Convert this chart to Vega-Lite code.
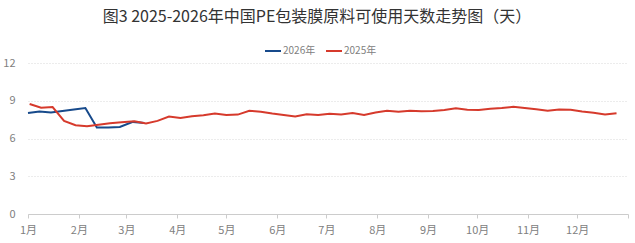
{
  "$schema": "https://vega.github.io/schema/vega-lite/v6.json",
  "width": 600,
  "height": 151,
  "autosize": "none",
  "padding": {"left": 28, "top": 63, "right": 7, "bottom": 29},
  "background": "white",
  "config": {
    "font": "Noto Sans CJK SC",
    "view": {"stroke": null}
  },
  "title": {
    "text": "图3 2025-2026年中国PE包装膜原料可使用天数走势图（天）",
    "anchor": "middle",
    "dx": -11,
    "offset": 17,
    "fontSize": 16,
    "fontWeight": "normal",
    "color": "#333333",
    "font": "Noto Sans CJK SC"
  },
  "data": {
    "values": [
      {"series": "2026年", "date": "2026-01-01", "value": 8.02},
      {"series": "2026年", "date": "2026-01-08", "value": 8.15},
      {"series": "2026年", "date": "2026-01-15", "value": 8.07},
      {"series": "2026年", "date": "2026-01-22", "value": 8.18},
      {"series": "2026年", "date": "2026-01-29", "value": 8.31},
      {"series": "2026年", "date": "2026-02-05", "value": 8.42},
      {"series": "2026年", "date": "2026-02-12", "value": 6.88},
      {"series": "2026年", "date": "2026-02-19", "value": 6.88},
      {"series": "2026年", "date": "2026-02-26", "value": 6.92},
      {"series": "2026年", "date": "2026-03-05", "value": 7.32},
      {"series": "2026年", "date": "2026-03-12", "value": 7.24},
      {"series": "2025年", "date": "2025-01-02", "value": 8.74},
      {"series": "2025年", "date": "2025-01-09", "value": 8.45},
      {"series": "2025年", "date": "2025-01-16", "value": 8.5},
      {"series": "2025年", "date": "2025-01-23", "value": 7.39},
      {"series": "2025年", "date": "2025-01-30", "value": 7.05},
      {"series": "2025年", "date": "2025-02-06", "value": 6.97},
      {"series": "2025年", "date": "2025-02-13", "value": 7.1},
      {"series": "2025年", "date": "2025-02-20", "value": 7.22},
      {"series": "2025年", "date": "2025-02-27", "value": 7.3},
      {"series": "2025年", "date": "2025-03-06", "value": 7.37},
      {"series": "2025年", "date": "2025-03-13", "value": 7.2},
      {"series": "2025年", "date": "2025-03-20", "value": 7.4},
      {"series": "2025年", "date": "2025-03-27", "value": 7.75},
      {"series": "2025年", "date": "2025-04-03", "value": 7.63},
      {"series": "2025年", "date": "2025-04-10", "value": 7.77},
      {"series": "2025年", "date": "2025-04-17", "value": 7.85},
      {"series": "2025年", "date": "2025-04-24", "value": 7.99},
      {"series": "2025年", "date": "2025-05-01", "value": 7.86},
      {"series": "2025年", "date": "2025-05-08", "value": 7.9},
      {"series": "2025年", "date": "2025-05-15", "value": 8.2},
      {"series": "2025年", "date": "2025-05-22", "value": 8.13},
      {"series": "2025年", "date": "2025-05-29", "value": 7.98},
      {"series": "2025年", "date": "2025-06-05", "value": 7.86},
      {"series": "2025年", "date": "2025-06-12", "value": 7.75},
      {"series": "2025年", "date": "2025-06-19", "value": 7.93},
      {"series": "2025年", "date": "2025-06-26", "value": 7.86},
      {"series": "2025年", "date": "2025-07-03", "value": 7.97},
      {"series": "2025年", "date": "2025-07-10", "value": 7.91},
      {"series": "2025年", "date": "2025-07-17", "value": 8.02},
      {"series": "2025年", "date": "2025-07-24", "value": 7.86},
      {"series": "2025年", "date": "2025-07-31", "value": 8.07},
      {"series": "2025年", "date": "2025-08-07", "value": 8.2},
      {"series": "2025年", "date": "2025-08-14", "value": 8.12},
      {"series": "2025年", "date": "2025-08-21", "value": 8.2},
      {"series": "2025年", "date": "2025-08-28", "value": 8.17},
      {"series": "2025年", "date": "2025-09-04", "value": 8.19},
      {"series": "2025年", "date": "2025-09-11", "value": 8.27},
      {"series": "2025年", "date": "2025-09-18", "value": 8.4},
      {"series": "2025年", "date": "2025-09-25", "value": 8.29},
      {"series": "2025年", "date": "2025-10-02", "value": 8.27},
      {"series": "2025年", "date": "2025-10-09", "value": 8.36},
      {"series": "2025年", "date": "2025-10-16", "value": 8.42},
      {"series": "2025年", "date": "2025-10-23", "value": 8.52},
      {"series": "2025年", "date": "2025-10-30", "value": 8.42},
      {"series": "2025年", "date": "2025-11-06", "value": 8.32},
      {"series": "2025年", "date": "2025-11-13", "value": 8.2},
      {"series": "2025年", "date": "2025-11-20", "value": 8.3},
      {"series": "2025年", "date": "2025-11-27", "value": 8.29},
      {"series": "2025年", "date": "2025-12-04", "value": 8.15},
      {"series": "2025年", "date": "2025-12-11", "value": 8.04},
      {"series": "2025年", "date": "2025-12-18", "value": 7.9},
      {"series": "2025年", "date": "2025-12-25", "value": 8.0}
    ]
  },
  "mark": {"type": "line", "strokeWidth": 2, "interpolate": "linear"},
  "encoding": {
    "x": {
      "field": "date",
      "type": "temporal",
      "timeUnit": "utcmonthdate",
      "scale": {
        "type": "utc",
        "domain": [
          {"year": 2012, "month": 1, "date": 1, "utc": true},
          {"year": 2013, "month": 1, "date": 1, "utc": true}
        ]
      },
      "axis": {
        "title": null,
        "tickCount": {"interval": "month", "step": 1},
        "labelExpr": "utcyear(datum.value) > 2012 ? '' : (utcmonth(datum.value) + 1) + '月'",
        "grid": false,
        "domainColor": "#cccccc",
        "tickColor": "#cccccc",
        "tickSize": 4,
        "labelColor": "#808080",
        "labelFontSize": 11,
        "labelPadding": 6,
        "labelFlush": false,
        "labelOverlap": false
      }
    },
    "y": {
      "field": "value",
      "type": "quantitative",
      "scale": {"domain": [0, 12], "nice": false, "zero": true},
      "axis": {
        "title": null,
        "values": [0, 3, 6, 9, 12],
        "domain": false,
        "ticks": false,
        "grid": true,
        "gridColor": "#d9d9d9",
        "gridDash": [1, 2],
        "labelColor": "#808080",
        "labelFontSize": 11,
        "labelPadding": 13
      }
    },
    "color": {
      "field": "series",
      "type": "nominal",
      "sort": ["2026年", "2025年"],
      "scale": {"domain": ["2026年", "2025年"], "range": ["#174a8b", "#d63a2c"]},
      "legend": {
        "title": null,
        "orient": "none",
        "direction": "horizontal",
        "legendX": 236,
        "legendY": -21,
        "symbolType": "stroke",
        "symbolStrokeWidth": 2,
        "symbolSize": 256,
        "labelColor": "#808080",
        "labelFontSize": 10,
        "labelOffset": 1,
        "columnPadding": 6,
        "symbolOffset": 0
      }
    }
  }
}
